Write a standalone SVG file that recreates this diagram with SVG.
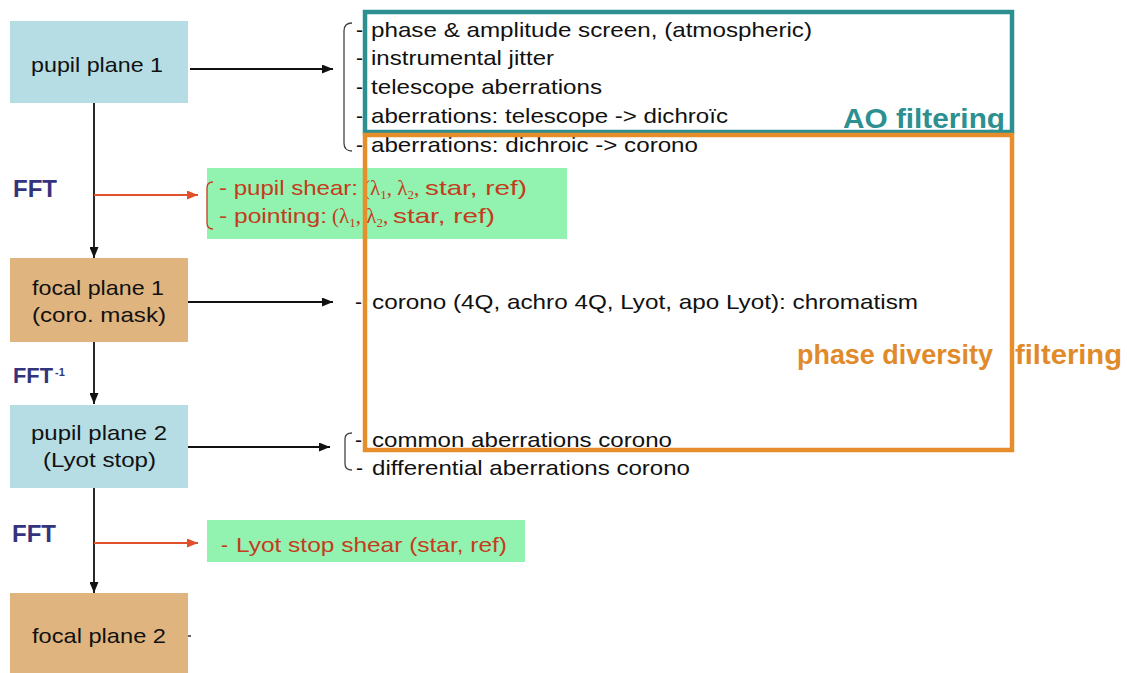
<svg xmlns="http://www.w3.org/2000/svg" width="1127" height="673" viewBox="0 0 1127 673">
<defs>
<style>
.t{font-family:"Liberation Sans",Arial,sans-serif;font-size:21px;fill:#111}
.fft{font-family:"Liberation Sans",Arial,sans-serif;font-size:24px;font-weight:bold;fill:#34347c}
.red{font-family:"Liberation Sans",Arial,sans-serif;font-size:21px;fill:#c43c1c}
.lam{font-family:"Liberation Serif","Times New Roman",serif;font-size:21px;fill:#c43c1c}
.big{font-family:"Liberation Sans",Arial,sans-serif;font-size:28px;font-weight:bold}
.blue{fill:#b6dde3}
.tan{fill:#e0b47f}
.green{fill:#92f2b0}
.ln{stroke:#111;stroke-width:1.8;fill:none}
.rl{stroke:#e0502a;stroke-width:1.8;fill:none}
.br{stroke:#444;stroke-width:1.3;fill:none}
.rbr{stroke:#c43c1c;stroke-width:1.3;fill:none}
</style>
<marker id="ah" markerWidth="11" markerHeight="9" refX="11" refY="4.5" orient="auto" markerUnits="userSpaceOnUse">
<path d="M0,0 L11,4.5 L0,9 z" fill="#111"/>
</marker>
<marker id="rah" markerWidth="11" markerHeight="9" refX="11" refY="4.5" orient="auto" markerUnits="userSpaceOnUse">
<path d="M0,0 L11,4.5 L0,9 z" fill="#e0502a"/>
</marker>
</defs>
<rect width="1127" height="673" fill="#fff"/>

<g id="highlights">
<rect x="207" y="168" width="360" height="71" class="green"/>
<rect x="207" y="520" width="318" height="42" class="green"/>
</g>

<g id="connectors">
<line x1="94" y1="103" x2="94" y2="258" class="ln" marker-end="url(#ah)"/>
<line x1="94" y1="342" x2="94" y2="404" class="ln" marker-end="url(#ah)"/>
<line x1="94" y1="488" x2="94" y2="593" class="ln" marker-end="url(#ah)"/>
<line x1="190" y1="69" x2="333" y2="69" class="ln" marker-end="url(#ah)"/>
<line x1="188" y1="302" x2="333" y2="302" class="ln" marker-end="url(#ah)"/>
<line x1="188" y1="447" x2="330" y2="447" class="ln" marker-end="url(#ah)"/>
<line x1="94" y1="195" x2="198" y2="195" class="rl" marker-end="url(#rah)"/>
<line x1="94" y1="543" x2="198" y2="543" class="rl" marker-end="url(#rah)"/>
<line x1="188" y1="636" x2="191" y2="636" stroke="#333" stroke-width="1.5"/>
</g>

<g id="pupil-plane-1">
<rect x="10" y="21" width="178" height="82" class="blue"/>
<text x="31" y="72" class="t" textLength="132" lengthAdjust="spacingAndGlyphs">pupil plane 1</text>
</g>

<g id="focal-plane-1">
<rect x="10" y="258" width="178" height="84" class="tan"/>
<text x="32" y="295" class="t" textLength="132" lengthAdjust="spacingAndGlyphs">focal plane 1</text>
<text x="32" y="322" class="t" textLength="134" lengthAdjust="spacingAndGlyphs">(coro. mask)</text>
</g>

<g id="pupil-plane-2">
<rect x="10" y="405" width="178" height="83" class="blue"/>
<text x="31" y="440" class="t" textLength="136" lengthAdjust="spacingAndGlyphs">pupil plane 2</text>
<text x="43" y="467" class="t" textLength="113" lengthAdjust="spacingAndGlyphs">(Lyot stop)</text>
</g>

<g id="focal-plane-2">
<rect x="10" y="593" width="178" height="80" class="tan"/>
<text x="32" y="643" class="t" textLength="134" lengthAdjust="spacingAndGlyphs">focal plane 2</text>
</g>

<g id="fft-labels">
<text x="13" y="197" class="fft" textLength="44" lengthAdjust="spacingAndGlyphs">FFT</text>
<text x="13" y="383" class="fft" style="font-size:22px" textLength="40" lengthAdjust="spacingAndGlyphs">FFT</text>
<text x="55" y="376" class="fft" style="font-size:11px">-1</text>
<text x="12" y="542" class="fft" textLength="44" lengthAdjust="spacingAndGlyphs">FFT</text>
</g>

<g id="brackets">
<path d="M352,23 Q344,23 344,31 L344,143 Q344,151 352,151" class="br"/>
<path d="M352,433 Q345,433 345,439 L345,464 Q345,470 352,470" class="br"/>
<path d="M213,182 Q207,182 207,188 L207,223 Q207,229 213,229" class="rbr"/>
</g>

<g id="list-pupil-1">
<text x="356" y="37" class="t">-</text>
<text x="371" y="37" class="t" textLength="441" lengthAdjust="spacingAndGlyphs">phase &amp; amplitude screen, (atmospheric)</text>
<text x="356" y="65" class="t">-</text>
<text x="371" y="65" class="t" textLength="183" lengthAdjust="spacingAndGlyphs">instrumental jitter</text>
<text x="356" y="94" class="t">-</text>
<text x="371" y="94" class="t" textLength="231" lengthAdjust="spacingAndGlyphs">telescope aberrations</text>
<text x="356" y="123" class="t">-</text>
<text x="371" y="123" class="t" textLength="357" lengthAdjust="spacingAndGlyphs">aberrations: telescope -&gt; dichroïc</text>
<text x="356" y="152" class="t">-</text>
<text x="371" y="152" class="t" textLength="327" lengthAdjust="spacingAndGlyphs">aberrations: dichroic -&gt; corono</text>
</g>

<g id="list-fft-1">
<text x="219" y="195" class="red" textLength="139" lengthAdjust="spacingAndGlyphs">- pupil shear:</text>
<text x="363" y="195" class="lam">(λ<tspan font-size="13" dy="4">1</tspan><tspan dy="-4">, λ</tspan><tspan font-size="13" dy="4">2</tspan><tspan dy="-4">,</tspan></text>
<text x="425" y="195" class="red" textLength="102" lengthAdjust="spacingAndGlyphs">star, ref)</text>
<text x="219" y="223" class="red" textLength="108" lengthAdjust="spacingAndGlyphs">- pointing:</text>
<text x="332" y="223" class="lam">(λ<tspan font-size="13" dy="4">1</tspan><tspan dy="-4">, λ</tspan><tspan font-size="13" dy="4">2</tspan><tspan dy="-4">,</tspan></text>
<text x="393" y="223" class="red" textLength="102" lengthAdjust="spacingAndGlyphs">star, ref)</text>
</g>

<g id="list-focal-1">
<text x="355" y="309" class="t">-</text>
<text x="372" y="309" class="t" textLength="546" lengthAdjust="spacingAndGlyphs">corono (4Q, achro 4Q, Lyot, apo Lyot): chromatism</text>
</g>

<g id="list-pupil-2">
<text x="355" y="447" class="t">-</text>
<text x="372" y="447" class="t" textLength="300" lengthAdjust="spacingAndGlyphs">common aberrations corono</text>
<text x="356" y="475" class="t">-</text>
<text x="372" y="475" class="t" textLength="318" lengthAdjust="spacingAndGlyphs">differential aberrations corono</text>
</g>

<g id="list-fft-2">
<text x="221" y="552" class="red">-</text>
<text x="236" y="552" class="red" textLength="271" lengthAdjust="spacingAndGlyphs">Lyot stop shear (star, ref)</text>
</g>

<g id="ao-filtering">
<rect x="365" y="12" width="647" height="120" fill="none" stroke="#2c8f90" stroke-width="4.5"/>
<text x="843" y="128" class="big" fill="#2c8f90" textLength="162" lengthAdjust="spacingAndGlyphs">AO filtering</text>
</g>

<g id="phase-diversity-filtering">
<rect x="365" y="135" width="647" height="315" fill="none" stroke="#e68e2c" stroke-width="4.5"/>
<text x="797" y="364" class="big" fill="#e08a2a" textLength="196" lengthAdjust="spacingAndGlyphs">phase diversity</text>
<text x="1015" y="364" class="big" fill="#e08a2a" textLength="107" lengthAdjust="spacingAndGlyphs">filtering</text>
</g>
</svg>
